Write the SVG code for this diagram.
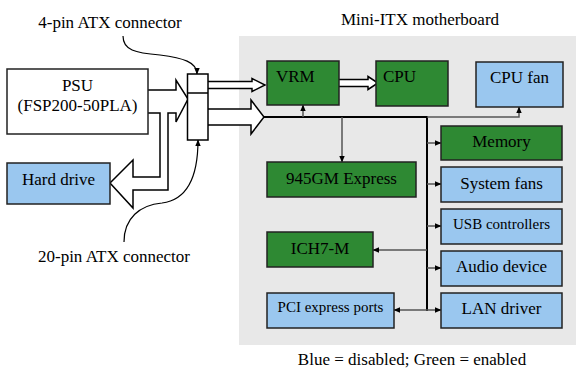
<svg xmlns="http://www.w3.org/2000/svg" width="576" height="369" viewBox="0 0 576 369">
<defs>
<marker id="ah" markerWidth="7" markerHeight="7" refX="6" refY="3.5" orient="auto" markerUnits="userSpaceOnUse">
<path d="M0,0.8 L6.5,3.5 L0,6.2 z" fill="#000"/>
</marker>
</defs>
<style>
text{font-family:"Liberation Serif","Times New Roman",serif;fill:#000;text-anchor:middle}
.l17{font-size:17px}
.l15{font-size:15px}
.box{stroke:#222;stroke-width:1.5}
.g{fill:#2e8933}
.b{fill:#9ac7ef}
.w{fill:#fff}
.blk{fill:#fff;stroke:#000;stroke-width:1.5;stroke-linejoin:miter}
.bus{stroke:#000;stroke-width:2;fill:none}
.wire{stroke:#555;stroke-width:1.5;fill:none;marker-end:url(#ah)}
.callout{stroke:#000;stroke-width:1.2;fill:none;marker-end:url(#ah)}
</style>
<rect x="239" y="36" width="337" height="309" fill="#e8e8e8"/>
<text class="l17" x="420" y="25">Mini-ITX motherboard</text>
<text class="l17" x="110" y="28">4-pin ATX connector</text>
<text class="l17" x="114" y="262">20-pin ATX connector</text>
<text class="l17" x="412" y="365">Blue = disabled; Green = enabled</text>
<g id="connectors">
<path class="blk" d="M148,90 H176 V80 L188,99 L176,122 V113 H168 V190 H133 V208 L110,183 L133,160 V177 H160 V113 H148"/>
<path class="blk" d="M208,81.5 H252 V78.5 L265,85 L252,91.5 V88.5 H208"/>
<path class="blk" d="M208,109 H251 V100 L264,117 L251,134 V125 H208"/>
<path class="blk" d="M339,79.5 H368 V76.5 L378,83 L368,89.5 V86.5 H339"/>
<path class="bus" d="M263,117 H427 V311"/>
<path class="wire" d="M427,117 H519 V107"/>
<path class="wire" d="M303,117 V105"/>
<path class="wire" d="M342,117 V162"/>
<path class="wire" d="M427,143 H441"/>
<path class="wire" d="M427,184 H441"/>
<path class="wire" d="M427,226 H441"/>
<path class="wire" d="M427,268 H441"/>
<path class="wire" d="M427,310 H441"/>
<path class="wire" d="M427,250 H373"/>
<path class="wire" d="M427,310 H394"/>
<path class="callout" d="M123,36 C123,50 135,53 160,55 C183,58 197,62 197,74"/>
<path class="callout" d="M124,242 C124,218 140,205 162,203 C186,200 198,180 198,140"/>
</g>
<g id="psu">
<rect class="box w" x="7" y="69" width="141" height="65"/>
<text class="l17" x="77.5" y="91">PSU</text>
<text class="l17" x="77.5" y="111">(FSP200-50PLA)</text>
</g>
<g id="harddrive">
<rect class="box b" x="7" y="163" width="103" height="41"/>
<text class="l17" x="58.5" y="185">Hard drive</text>
</g>
<g id="atx">
<rect x="187.5" y="74" width="20.5" height="66" fill="#fff" stroke="#000" stroke-width="1.5"/>
<line x1="187.5" y1="93" x2="208" y2="93" stroke="#000" stroke-width="1.5"/>
</g>
<g id="vrm">
<rect class="box g" x="267" y="61" width="72" height="44"/>
<text class="l17" x="276" y="82" style="text-anchor:start">VRM</text>
</g>
<g id="cpu">
<rect class="box g" x="376" y="61" width="72" height="45"/>
<text class="l17" x="383" y="82" style="text-anchor:start">CPU</text>
</g>
<g id="cpufan">
<rect class="box b" x="476" y="62" width="87" height="45"/>
<text class="l17" x="519.5" y="83">CPU fan</text>
</g>
<g id="memory">
<rect class="box g" x="441" y="126" width="121" height="34"/>
<text class="l17" x="501.5" y="147">Memory</text>
</g>
<g id="systemfans">
<rect class="box b" x="441" y="167" width="121" height="35"/>
<text class="l17" x="501.5" y="189">System fans</text>
</g>
<g id="usb">
<rect class="box b" x="441" y="209" width="121" height="35"/>
<text class="l15" x="501.5" y="229">USB controllers</text>
</g>
<g id="audio">
<rect class="box b" x="441" y="251" width="121" height="35"/>
<text class="l17" x="501.5" y="272">Audio device</text>
</g>
<g id="lan">
<rect class="box b" x="441" y="293" width="121" height="35"/>
<text class="l17" x="501.5" y="314">LAN driver</text>
</g>
<g id="gmch">
<rect class="box g" x="267" y="162" width="149" height="35"/>
<text class="l17" x="341.5" y="184">945GM Express</text>
</g>
<g id="ich">
<rect class="box g" x="267" y="232" width="106" height="35"/>
<text class="l17" x="320" y="254">ICH7-M</text>
</g>
<g id="pcie">
<rect class="box b" x="267" y="293" width="127" height="35"/>
<text class="l15" x="330.5" y="312">PCI express ports</text>
</g>
</svg>
